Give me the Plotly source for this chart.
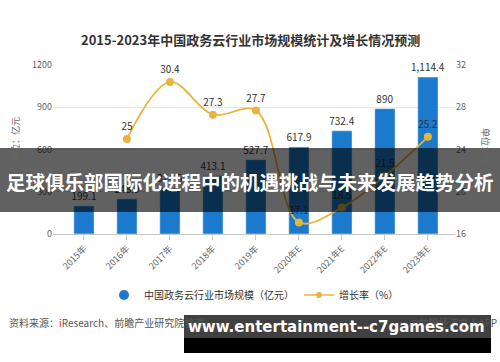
import plotly.graph_objects as go

categories = ["2015年", "2016年", "2017年", "2018年", "2019年", "2020年E", "2021年E", "2022年E", "2023年E"]
market_size = [199.1, 248.9, 324.5, 413.1, 527.7, 617.9, 732.4, 890, 1114.4]
market_labels = ["199.1", "248.9", "324.5", "413.1", "527.7", "617.9", "732.4", "890", "1,114.4"]
growth_rate = [None, 25, 30.4, 27.3, 27.7, 17.1, 18.5, 21.5, 25.2]
growth_labels = ["", "25", "30.4", "27.3", "27.7", "17.1", "18.5", "21.5", "25.2"]
left_ticks = [0, 300, 600, 900, 1200]
right_ticks = [16, 20, 24, 28, 32]

W, H = 500, 362
L, R, T, B = 53, 455, 65, 234

def px(x):
    return (x - L) / (R - L)

def py(y):
    return (B - y) / (B - T)

BLUE = "#1B7ACB"
GOLD = "#E8B440"
CJK = "Noto Sans CJK SC"

fig = go.Figure()
fig.add_trace(go.Bar(
    x=categories, y=market_size, marker_color=BLUE, width=0.47,
    text=market_labels, textposition="outside", cliponaxis=False, constraintext="none",
    textfont=dict(family=CJK, size=10, color="#333333"),
    showlegend=False, yaxis="y",
))
fig.add_trace(go.Scatter(
    x=categories, y=growth_rate, mode="lines+markers+text", yaxis="y2",
    line=dict(color=GOLD, width=1.8, shape="spline", smoothing=1.0),
    marker=dict(color=GOLD, size=8),
    text=growth_labels, textposition="top center", cliponaxis=False,
    textfont=dict(family=CJK, size=10, color="#333333"),
    name="增长率（%）", showlegend=False,
))
# legend entries
fig.add_trace(go.Scatter(x=[None], y=[None], mode="markers",
                         marker=dict(color=BLUE, size=10, symbol="circle"),
                         name="中国政务云行业市场规模（亿元）"))
fig.add_trace(go.Scatter(x=[None], y=[None], mode="lines+markers",
                         line=dict(color=GOLD, width=1.5),
                         marker=dict(color=GOLD, size=6),
                         name="增长率（%）", yaxis="y2"))

fig.update_layout(
    width=W, height=H,
    margin=dict(l=L, r=W - R, t=T, b=H - B, autoexpand=False),
    paper_bgcolor="white", plot_bgcolor="white",
    font=dict(family=CJK, color="#555555", size=10),
    bargap=0.53,
    xaxis=dict(
        type="category", range=[-0.72, 8.63], tickangle=-45, automargin=False,
        showline=True, linecolor="#c8c8c8", linewidth=1,
        ticks="outside", ticklen=5, tickcolor="#c8c8c8",
        tickfont=dict(size=9, color="#666666", family=CJK),
        showgrid=False, zeroline=False,
    ),
    yaxis=dict(
        range=[0, 1200], tickvals=left_ticks, showgrid=True, gridcolor="#e6e6e6",
        zeroline=False, tickfont=dict(size=9, color="#666666"), ticks="", automargin=False,
    ),
    yaxis2=dict(
        range=[16, 32], tickvals=right_ticks, overlaying="y", side="right",
        showgrid=False, zeroline=False, tickfont=dict(size=9, color="#666666"), automargin=False,
    ),
    legend=dict(orientation="h", x=0.5, xanchor="center", y=py(295), yanchor="middle",
                font=dict(family=CJK, size=10, color="#333333"), itemwidth=30,
                bgcolor="rgba(0,0,0,0)"),
    showlegend=True,
)

annotations = [
    dict(text="<b>2015-2023年中国政务云行业市场规模统计及增长情况预测</b>", x=px(250), y=py(40),
         font=dict(family=CJK, size=13, color="#333333")),
    dict(text="单位：亿元", x=px(15), y=py(140), textangle=-90,
         font=dict(family=CJK, size=9, color="#666666")),
    dict(text="单位：%", x=px(486), y=py(145), textangle=90,
         font=dict(family=CJK, size=9, color="#666666")),
    dict(text="资料来源：<span style='color:#d9312b'>i</span>Research、前瞻产业研究院整理",
         x=px(7), y=py(322), xanchor="left",
         font=dict(family=CJK, size=10, color="#555555")),
    dict(text="@前瞻经济学人APP", x=px(499), y=py(322), xanchor="right",
         font=dict(family=CJK, size=10, color="#555555")),
    dict(text="<b>足球俱乐部国际化进程中的机遇挑战与未来发展趋势分析</b>", x=px(250), y=py(181),
         font=dict(family=CJK, size=19.5, color="white")),
    dict(text="<b>www.entertainment--c7games.com</b>", x=px(336), y=py(327),
         font=dict(family="DejaVu Sans", size=15, color="white")),
]
for a in annotations:
    a.update(xref="paper", yref="paper", showarrow=False)
    a.setdefault("xanchor", "center")
    a.setdefault("yanchor", "middle")
fig.update_layout(annotations=annotations)

shapes = [
    dict(type="rect", x0=px(0), x1=px(500), y0=py(212), y1=py(148),
         fillcolor="rgba(0,0,0,0.62)", line_width=0, layer="above"),
    dict(type="rect", x0=px(184), x1=px(491), y0=py(338), y1=py(315),
         fillcolor="rgba(0,0,0,0.75)", line_width=0, layer="above"),
    dict(type="rect", x0=px(184), x1=px(491), y0=py(353), y1=py(338),
         fillcolor="black", line_width=0, layer="above"),
]
for s in shapes:
    s.update(xref="paper", yref="paper")
fig.update_layout(shapes=shapes)

fig.write_html("out.html", config={"displayModeBar": False},
               post_script="document.body.style.margin='0';document.body.style.overflow='hidden';")
